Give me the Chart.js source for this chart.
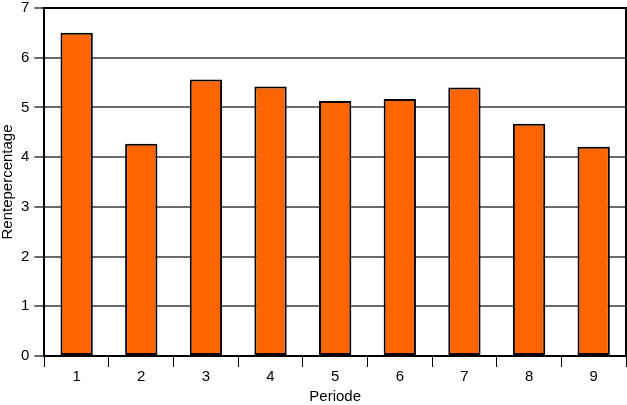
<!DOCTYPE html>
<html>
<head>
<meta charset="utf-8">
<script src="https://cdn.jsdelivr.net/npm/chart.js@4/dist/chart.umd.min.js"></script>
<style>
  html, body { margin: 0; padding: 0; background: #fff; }
  #wrap { width: 627px; height: 405px; }
</style>
</head>
<body>
<div id="wrap"><canvas id="chart"></canvas></div>
<script>
const periodes = ["1", "2", "3", "4", "5", "6", "7", "8", "9"];
const rente = [6.5, 4.27, 5.56, 5.42, 5.13, 5.17, 5.4, 4.67, 4.21];
const yTicks = [0, 1, 2, 3, 4, 5, 6, 7];

const FONT = "'Liberation Sans', Arial, sans-serif";

// zwart kader boven en rechts van het plotgebied
const framePlugin = {
  id: "frame",
  afterDatasetsDraw(chart) {
    const { ctx, chartArea } = chart;
    ctx.save();
    ctx.strokeStyle = "#000";
    ctx.lineWidth = 2;
    ctx.beginPath();
    ctx.moveTo(chartArea.left, chartArea.top);
    ctx.lineTo(chartArea.right, chartArea.top);
    ctx.lineTo(chartArea.right, chartArea.bottom);
    ctx.stroke();
    ctx.restore();
  },
};

new Chart(document.getElementById("chart"), {
  type: "bar",
  data: {
    labels: periodes,
    datasets: [
      {
        label: "Rentepercentage",
        data: rente,
        backgroundColor: "#ff6600",
        borderColor: "#000",
        borderWidth: 2,
        borderSkipped: false,
        barPercentage: 0.5,
        categoryPercentage: 1,
      },
    ],
  },
  options: {
    responsive: true,
    maintainAspectRatio: false,
    animation: false,
    layout: { padding: { top: -2, right: 1, left: 0, bottom: 1 } },
    plugins: {
      legend: { display: false },
      tooltip: { enabled: false },
    },
    scales: {
      x: {
        grid: {
          offset: true,
          drawOnChartArea: false,
          color: "#000",
          tickLength: 11,
          lineWidth: 1,
        },
        border: { color: "#000", width: 2 },
        ticks: { color: "#000", font: { family: FONT, size: 15, lineHeight: 1 }, padding: 2 },
        title: {
          display: true,
          text: "Periode",
          color: "#000",
          font: { family: FONT, size: 15, lineHeight: 1 },
          padding: { top: 3, bottom: 0 },
        },
      },
      y: {
        min: 0,
        max: 7,
        afterBuildTicks: (axis) => {
          axis.ticks = yTicks.map((v) => ({ value: v }));
        },
        grid: {
          color: "#6a6a6a",
          lineWidth: 2,
          tickLength: 10,
        },
        border: { color: "#000", width: 2 },
        ticks: { color: "#000", font: { family: FONT, size: 15, lineHeight: 0.4 }, padding: 5 },
        title: {
          display: true,
          text: "Rentepercentage",
          color: "#000",
          font: { family: FONT, size: 15, lineHeight: 1 },
          padding: { top: 0, bottom: 1 },
        },
      },
    },
  },
  plugins: [framePlugin],
});
</script>
</body>
</html>
